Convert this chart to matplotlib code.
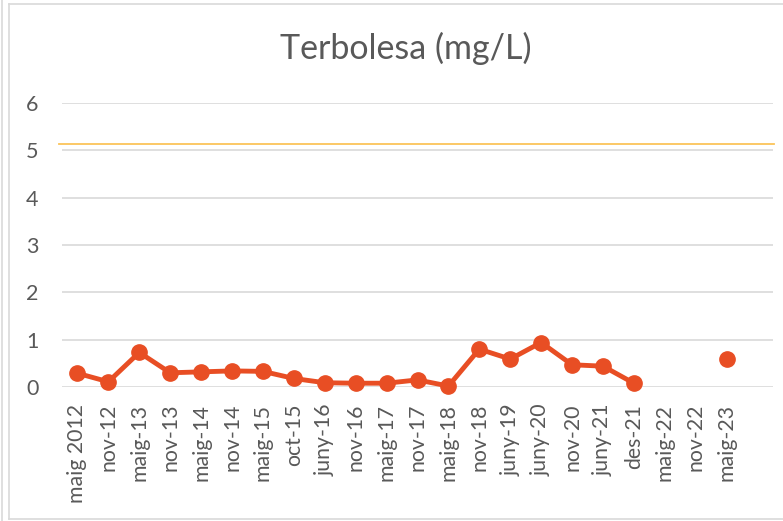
import matplotlib
matplotlib.use("Agg")
import matplotlib.pyplot as plt
import numpy as np
from matplotlib.lines import Line2D

categories = ["maig 2012", "nov-12", "maig-13", "nov-13", "maig-14", "nov-14",
              "maig-15", "oct-15", "juny-16", "nov-16", "maig-17", "nov-17",
              "maig-18", "nov-18", "juny-19", "juny-20", "nov-20", "juny-21",
              "des-21", "maig-22", "nov-22", "maig-23"]
values = [0.29, 0.11, 0.73, 0.30, 0.32, 0.34, 0.33, 0.18, 0.09, 0.08, 0.08,
          0.15, 0.02, 0.80, 0.59, 0.94, 0.47, 0.44, 0.08, np.nan, np.nan, 0.59]
limit_value = 5.13
yticks = [0, 1, 2, 3, 4, 5, 6]
title = "Terbolesa (mg/L)"

plt.rcParams['font.family'] = ['Lato', 'DejaVu Sans']
text_color = '#595959'

fig = plt.figure(figsize=(7.83, 5.21), dpi=100)
W, H = 783, 521
ax = fig.add_axes([62 / W, 1 - 387 / H, (773 - 62) / W, (387 - 103) / H])

x = np.arange(len(categories))
ax.plot(x, values, color='#E84E24', lw=3.5, marker='o', markersize=11,
        clip_on=False, zorder=4)
ax.axhline(limit_value, xmin=-0.004, xmax=1.001, color='#FBC459', lw=1.3,
           clip_on=False, zorder=3)

ax.set_xlim(-0.5, 22.5)
ax.set_ylim(0, 6)
ax.set_yticks(yticks)
ax.set_xticks(x)
ax.set_xticklabels(categories, rotation=90, fontsize=15.3, color=text_color)
ax.tick_params(axis='y', labelsize=15.5, labelcolor=text_color, length=0, pad=17)
ax.tick_params(axis='x', length=0, pad=12)
ax.grid(axis='y', color='#D9D9D9', lw=1.2)
ax.set_axisbelow(True)
for s in ax.spines.values():
    s.set_visible(False)

fig.text(406 / W, 1 - 48 / H, title, ha='center', va='center', fontsize=24.5,
         color=text_color)

# chart borders
fig.add_artist(Line2D([9 / W, 9 / W], [1 - 519 / H, 1 - 4 / H], color='#D9D9D9', lw=1.2,
                      transform=fig.transFigure))
fig.add_artist(Line2D([9 / W, 1.0], [1 - 4 / H, 1 - 4 / H], color='#D9D9D9', lw=1.2,
                      transform=fig.transFigure))
fig.add_artist(Line2D([9 / W, 1.0], [1 - 519 / H, 1 - 519 / H], color='#D9D9D9', lw=1.2,
                      transform=fig.transFigure))
fig.add_artist(Line2D([2 / W, 2 / W], [0, 1], color='#D9D9D9', lw=1.2,
                      transform=fig.transFigure))

fig.savefig('out.png', dpi=100)
